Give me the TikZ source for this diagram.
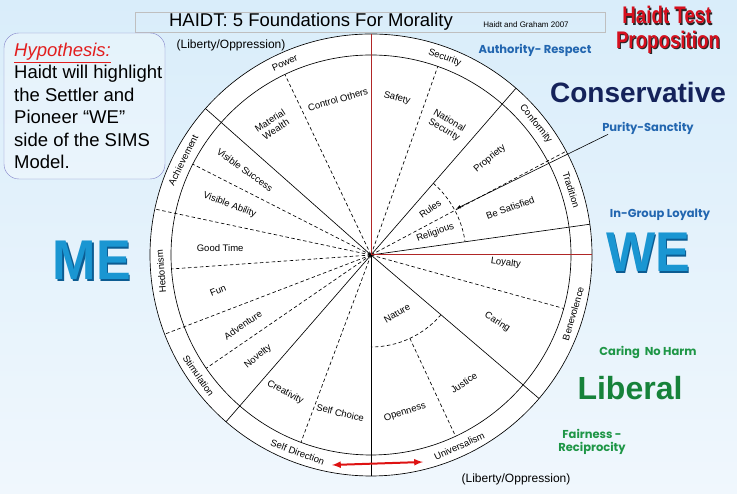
\documentclass[tikz,border=0pt]{standalone}
\usepackage{fontspec}
\setmainfont{Liberation Sans}
\newfontfamily\gothic{Poppins}
\definecolor{bgtop}{RGB}{217,237,250}
\definecolor{bgbot}{RGB}{240,247,253}
\definecolor{axisred}{RGB}{176,38,38}
\definecolor{arrowred}{RGB}{222,18,18}
\definecolor{hypred}{RGB}{226,30,30}
\definecolor{moralblue}{RGB}{34,102,176}
\definecolor{consnavy}{RGB}{20,34,90}
\definecolor{moralgreen}{RGB}{30,150,70}
\definecolor{libgreen}{RGB}{22,130,58}
\definecolor{wecyan}{RGB}{26,150,210}
\definecolor{wedark}{RGB}{12,92,146}
\definecolor{testred}{RGB}{214,16,30}
\newcommand{\shadowed}[3]{\rlap{\kern#3\raisebox{-#3}{\textcolor{#2}{#1}}}#1}

\begin{document}
\begin{tikzpicture}[x=1pt,y=1pt,>=latex,
  wheeltext/.style={font=\fontsize{9.5}{10.5}\selectfont,inner sep=0pt,align=center},
  divide/.style={line width=0.65pt,dash pattern=on 3.5pt off 2.5pt},
  bound/.style={line width=0.65pt},
  found/.style={font=\gothic\bfseries\fontsize{11.5}{13}\selectfont,inner sep=0pt,align=center},
  bigword/.style={font=\bfseries\fontsize{56}{56}\selectfont,inner sep=0pt,xscale=0.93,text=wecyan},
  testword/.style={font=\bfseries\fontsize{24}{24}\selectfont,inner sep=0pt,xscale=0.78,text=testred}]
\useasboundingbox (0,0) rectangle (737,494);
\shade[top color=bgtop,bottom color=bgbot] (0,0) rectangle (737,494);

\draw[gray!50] (135,462) rectangle (605,482);
\node[inner sep=0pt,font=\fontsize{18.5}{20}\selectfont] (title) at (311,472) {HAIDT: 5 Foundations For Morality};
\node[inner sep=0pt,font=\fontsize{8}{9}\selectfont] (source) at (526,469) {Haidt and Graham 2007};

\draw[gray!60!blue!70,fill=white,fill opacity=0.3,rounded corners=15pt] (4,315) rectangle (165,461);
\node[anchor=north west,align=left,inner sep=0pt,font=\fontsize{18.5}{22.4}\selectfont] (hypo) at (14,451)
  {\textcolor{hypred}{\underline{\textit{Hypothesis:}}}\\Haidt will highlight\\the Settler and\\Pioneer “WE”\\side of the SIMS\\Model.};

% the wheel
\begin{scope}[shift={(371,239)}]
\fill[white] (0,0) circle (221);
\draw[bound] (0,0) circle (221) (0,0) circle (200);
\foreach \a in {138.5,49,8,-40.5,-90,-131}
  \draw[bound] (0,0) -- (\a:221);
\foreach \a in {168,201,28}
  \draw[divide] (0,0) -- (\a:221);
\foreach \a in {115.5,70.5,-15.5,-110.5,214.5,184,153}
  \draw[divide] (0,0) -- (\a:200);
\draw[divide] (49:95) arc (49:8:95);
\draw[divide] (-40.5:92) arc (-40.5:-90:92);
\draw[divide] (-65:92) -- (-65:200);
\draw[axisred,line width=1pt] (0,0) -- (90:221) (0,0) -- (0:221);

\foreach \a/\r/\t/\n in {114.2/24.2/Power/power, 69.5/-20.5/Security/security,
    38.5/-51.5/Conformity/conformity, 18/-72/Tradition/tradition,
    -16.2/73.8/Benevolence/benevolence, -65.2/24.8/Universalism/universalism,
    -110.4/-20.4/Self Direction/selfdir, 215/-55/Stimulation/stimulation,
    184.5/94.5/Hedonism/hedonism, 153.2/63.2/Achievement/achievement}
  \node[wheeltext,rotate=\r] (\n) at (\a:210.5) {\t};

\foreach \a/\d/\r/\t/\n in {102/159/16/Control Others/control, 127/163/33/{Material\\Wealth}/wealth,
    80.6/159/-15/Safety/safety, 59.7/150/-30/{National\\Security}/natsec,
    39/153/40/Propriety/propriety, 18.7/147/20/Be Satisfied/satisfied,
    38/75/36/Rules/rules, 19/68/20/Religious/religious,
    -3.4/135/-8/Loyalty/loyalty, -28/143/-32/Caring/caring,
    -66/64/30/Nature/nature, -54/158/34/Justice/justice,
    -77.8/161/18/Openness/openness, -101/161/-14/Self Choice/selfchoice,
    -122/162/-28/Creativity/creativity, 222/152/39/Novelty/novelty,
    208.7/146/34/Adventure/adventure, 193/157/22/Fun/fun,
    177.3/151/0/Good Time/goodtime, 160.5/150/-20.5/Visible Ability/visability,
    146/152/-36/Visible Success/vissuccess}
  \node[wheeltext,rotate=\r] (\n) at (\a:\d) {\t};

\coordinate (purtip) at (28.5:97);
\coordinate (libleft) at (-39,-210);
\coordinate (libright) at (52,-207);
\end{scope}

\draw[arrowred,line width=2pt,<->] (libleft) -- (libright);

\node[inner sep=0pt,font=\fontsize{12}{13}\selectfont] (libtop) at (231,449) {(Liberty/Oppression)};
\node[inner sep=0pt,font=\fontsize{12}{13}\selectfont] (libbottom) at (516,15) {(Liberty/Oppression)};

% foundations
\node[found,text=moralblue] (authority) at (535,444) {Authority- Respect};
\node[found,text=moralblue] (purity) at (648,366) {Purity-Sanctity};
\node[found,text=moralblue] (ingroup) at (660,279) {In-Group Loyalty};
\node[found,text=moralgreen] (caring) at (648,142) {Caring\ \ No Harm};
\node[found,text=moralgreen] (fairness) at (592,52) {Fairness -\\Reciprocity};
\draw[->,line width=0.6pt] ([xshift=6pt]purity.south west) -- (purtip);

\node[inner sep=0pt,font=\bfseries\fontsize{28}{28}\selectfont,text=consnavy] (conservative) at (638,401) {Conservative};
\node[inner sep=0pt,font=\bfseries\fontsize{32}{32}\selectfont,text=libgreen] (liberal) at (630,106) {Liberal};

\node[bigword] (me) at (92,233) {\shadowed{ME}{wedark}{1.5pt}};
\node[bigword] (we) at (648,241) {\shadowed{WE}{wedark}{1.5pt}};

\node[testword] (test) at (667,478) {\shadowed{Haidt Test}{black!85}{1.5pt}};
\node[testword] (prop) at (668,451) {\shadowed{Proposition}{black!85}{1.5pt}};

\end{tikzpicture}
\end{document}
